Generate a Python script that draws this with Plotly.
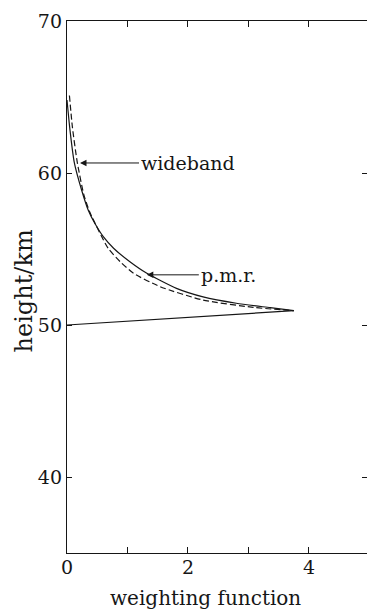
import plotly.graph_objects as go

# p.m.r. weighting function: upper branch (height in km vs weight)
pmr_w = [0.0, 0.05, 0.12, 0.24, 0.35, 0.46, 0.60, 0.77, 1.04, 1.32, 1.81, 2.25, 2.80, 3.36, 3.75]
pmr_h = [64.8, 62.8, 60.7, 58.9, 57.57, 56.69, 55.81, 55.05, 54.16, 53.4, 52.41, 51.85, 51.43, 51.14, 50.94]
# p.m.r. lower branch, back down to zero at 50 km
pmr_low_w = [3.75, 0.0]
pmr_low_h = [50.94, 50.0]

# wideband weighting function
wide_w = [0.04, 0.09, 0.17, 0.28, 0.38, 0.68, 0.88, 1.10, 1.54, 2.25, 3.08, 3.75]
wide_h = [65.1, 63.0, 60.7, 58.55, 57.4, 55.05, 54.16, 53.4, 52.52, 51.64, 51.16, 50.94]

x_ticks = [0, 1, 2, 3, 4]
x_ticktext = ["0", "", "2", "", "4"]
y_ticks = [40, 50, 60, 70]

FONT = "DejaVu Serif"
INK = "#161616"

fig = go.Figure()
fig.add_trace(go.Scatter(x=pmr_w, y=pmr_h, mode="lines",
                         line=dict(color=INK, width=1.2, shape="spline", smoothing=0.6), showlegend=False))
fig.add_trace(go.Scatter(x=pmr_low_w, y=pmr_low_h, mode="lines",
                         line=dict(color=INK, width=1.2), showlegend=False))
fig.add_trace(go.Scatter(x=wide_w, y=wide_h, mode="lines",
                         line=dict(color=INK, width=1.2, dash="6px,3px", shape="spline", smoothing=0.6),
                         showlegend=False))
# invisible trace carrying the right-hand tick marks
fig.add_trace(go.Scatter(x=[0], y=[50], yaxis="y2", mode="markers", marker=dict(opacity=0),
                         showlegend=False, hoverinfo="skip"))

fig.update_layout(
    width=367, height=612,
    margin=dict(l=67, r=0, t=21, b=59),
    paper_bgcolor="white", plot_bgcolor="white",
    font=dict(family=FONT, size=19, color=INK),
    xaxis=dict(range=[0, 4.96], tickvals=x_ticks, ticktext=x_ticktext, ticks="inside", ticklen=6,
               tickcolor=INK, showline=True, linecolor=INK, linewidth=1.4, mirror="ticks",
               showgrid=False, zeroline=False, tickfont=dict(size=19), ticklabelstandoff=-3),
    yaxis=dict(range=[35, 70], tickvals=y_ticks, ticks="inside", ticklen=5, tickcolor=INK,
               showline=True, linecolor=INK, linewidth=1.4, showgrid=False, zeroline=False,
               tickfont=dict(size=19)),
    yaxis2=dict(range=[35, 70], overlaying="y", side="right", tickvals=[40, 50, 60], ticks="inside",
                ticklen=5, tickcolor=INK, showline=False, showgrid=False, zeroline=False,
                showticklabels=False),
    annotations=[
        dict(x=0.215, y=60.66, xref="x", yref="y", text="wideband", showarrow=True,
             ax=59, ay=0, axref="pixel", ayref="pixel", xanchor="left",
             arrowhead=2, arrowsize=1.3, arrowwidth=1, arrowcolor=INK, font=dict(size=19)),
        dict(x=1.32, y=53.3, xref="x", yref="y", text="p.m.r.", showarrow=True,
             ax=52, ay=0, axref="pixel", ayref="pixel", xanchor="left",
             arrowhead=2, arrowsize=1.3, arrowwidth=1, arrowcolor=INK, font=dict(size=19)),
        dict(x=-0.145, y=0.4925, xref="paper", yref="paper", text="height/km", textangle=-90,
             xanchor="center", yanchor="middle", showarrow=False, font=dict(size=24)),
        dict(x=0.463, y=-0.085, xref="paper", yref="paper", text="weighting function",
             xanchor="center", yanchor="middle", showarrow=False, font=dict(size=20)),
    ],
)

fig.write_html("out.html")
